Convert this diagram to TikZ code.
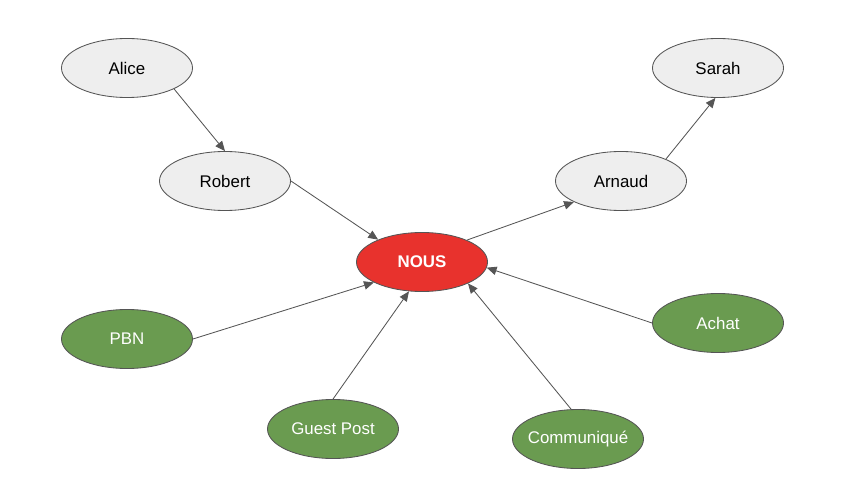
\documentclass[tikz,border=0pt]{standalone}
\usepackage{fontspec}
\setmainfont{Liberation Sans}
\usepackage{xcolor}
\usetikzlibrary{shapes.geometric, arrows.meta, calc}
\definecolor{bubblegray}{RGB}{238,238,238}
\definecolor{linegray}{RGB}{85,85,85}
\definecolor{nousred}{RGB}{232,50,45}
\definecolor{linkgreen}{RGB}{106,155,80}

\begin{document}
\begin{tikzpicture}[x=0.025cm, y=-0.025cm,
  bubble/.style={ellipse, draw=linegray, line width=0.6pt, fill=bubblegray,
    minimum width=3.275cm, minimum height=1.475cm, inner ysep=0pt, inner xsep=-6pt,
    font=\fontsize{12}{14}\selectfont},
  source/.style={bubble, fill=linkgreen, text=white},
  target/.style={bubble, fill=nousred, text=white, font=\fontsize{12}{14}\selectfont\bfseries},
  link/.style={draw=linegray, line width=0.6pt,
    -{Triangle[length=7pt, width=6pt]}}]
  \useasboundingbox (0,0) rectangle (846,504);
  % Chain of referring sites
  \node[bubble] (alice) at (127,68) {Alice};
  \node[bubble] (robert) at (225,181) {Robert};
  \node[bubble] (arnaud) at (621,181) {Arnaud};
  \node[bubble] (sarah) at (718,68) {Sarah};
  % Central site
  \node[target] (nous) at (422,262) {NOUS};
  % Link sources
  \node[source] (pbn) at (127,339) {PBN};
  \node[source] (guest) at (333,429) {Guest Post};
  \node[source] (comm) at (578,439) {Communiqué};
  \node[source] (achat) at (718,323) {Achat};
  % Connectors
  \draw[link] (alice.-24) -- (robert.north);
  \draw[link] (robert.east) -- (nous.153);
  \draw[link] (nous.26) -- (arnaud.-156);
  \draw[link] (arnaud.26) -- (sarah.-95);
  \draw[link] (pbn.east) -- (nous.203);
  \draw[link] (guest.north) -- (nous.-114);
  \draw[link] (comm.103) -- (nous.-25);
  \draw[link] (achat.west) -- (nous.-5);
\end{tikzpicture}
\end{document}
